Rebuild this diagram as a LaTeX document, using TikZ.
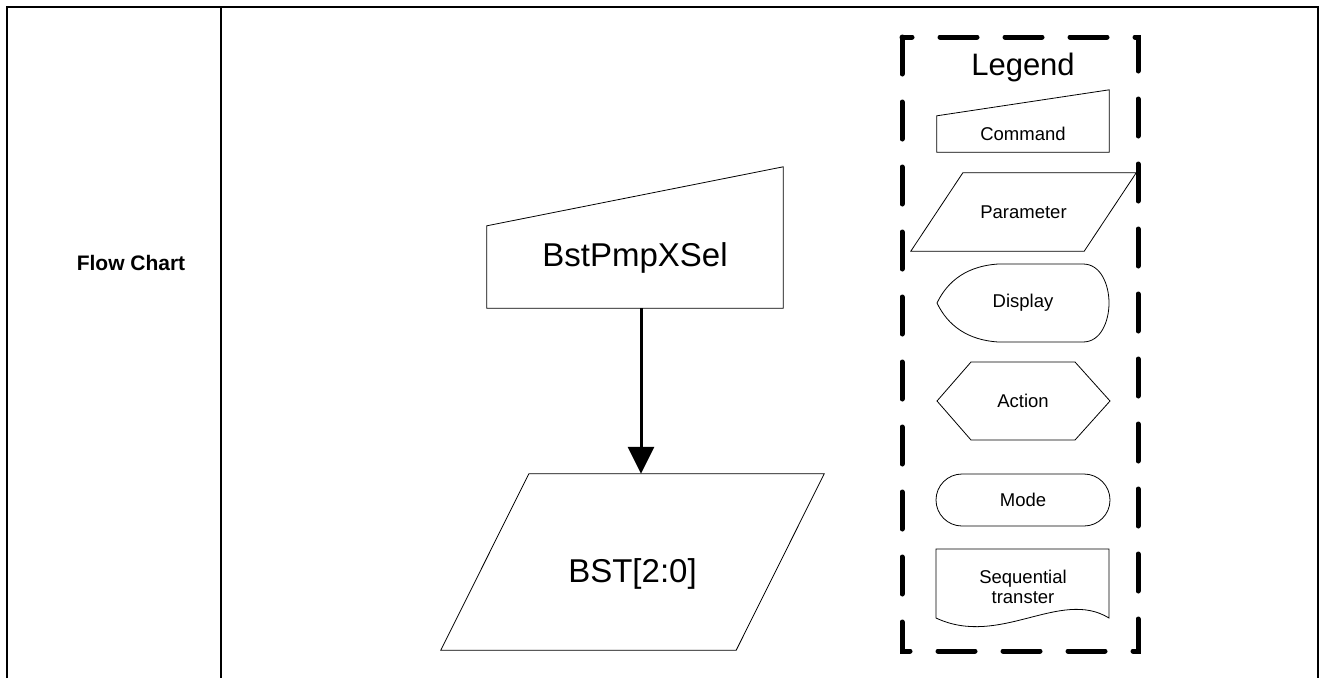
\documentclass[tikz,border=0pt]{standalone}
\usepackage{fontspec}
\setmainfont{Liberation Sans}
\usetikzlibrary{arrows.meta, shapes.misc}

\newcommand{\bigtxt}{\fontsize{33}{39}\selectfont}
\newcommand{\smalltxt}{\fontsize{18.5}{20}\selectfont}

\begin{document}
\begin{tikzpicture}[x=1pt, y=-1pt,
    outline/.style={draw, line width=0.8pt},
    body/.style={inner sep=0pt, align=center},
    legendbox/.style={line width=5pt, line cap=round, dash pattern=on 37pt off 28pt},
    frame/.style={line width=2.8pt},
    flow/.style={line width=3pt, -{Triangle[width=26pt, length=27pt]}}]
   \useasboundingbox (0,0) rectangle (1321,678);

   % table
   \draw[frame] (7,678) -- (7,7) -- (1318,7) -- (1318,678);
   \draw[frame] (221,7) -- (221,678);
   \node[font=\bfseries\fontsize{21}{25}\selectfont] (row) at (131,263) {Flow Chart};

   % flow chart
   \node[body, font=\bigtxt, minimum width=296pt, minimum height=104pt] (cmd) at (635,258) {BstPmpXSel};
   \draw[outline] ([yshift=2pt]cmd.south west) -- ([yshift=-20pt]cmd.north west)
      -- ([yshift=39pt]cmd.north east) -- ([yshift=2pt]cmd.south east) -- cycle;
   \node[body, font=\bigtxt, minimum width=295pt, minimum height=176pt,
      text height=47pt, text depth=7pt] (bst) at (632.5,562) {BST[2:0]};
   \draw[outline] ([xshift=44pt]bst.north west) -- ([xshift=44pt]bst.north east)
      -- ([xshift=-44pt]bst.south east) -- ([xshift=-44pt]bst.south west) -- cycle;
   \draw[flow] ([xshift=6pt, yshift=2pt]cmd.south) -- ([xshift=6pt]cmd.south |- bst.north);

   % legend
   \draw[legendbox] (902,37) rectangle (1138,651);
   \node[font=\fontsize{31}{36}\selectfont] (legend) at (1023,67) {Legend};

   \node[body, font=\smalltxt, minimum width=172pt, minimum height=36pt] (lcmd) at (1023,134) {Command};
   \draw[outline] (lcmd.south west) -- (lcmd.north west)
      -- ([yshift=26pt]lcmd.north east) -- (lcmd.south east) -- cycle;

   \node[body, font=\smalltxt, minimum width=173pt, minimum height=78pt] (lpar) at (1023.5,212) {Parameter};
   \draw[outline] ([xshift=26pt]lpar.north west) -- ([xshift=26pt]lpar.north east)
      -- ([xshift=-26pt]lpar.south east) -- ([xshift=-26pt]lpar.south west) -- cycle;

   \node[body, font=\smalltxt] (ldsp) at (1023,303) {Display};
   \draw[outline] (937,303) .. controls (948,280) and (968,266) .. (998,264) -- (1083,264)
      .. controls (1101,264) and (1109,285) .. (1109,303)
      .. controls (1109,321) and (1101,342) .. (1083,342) -- (998,342)
      .. controls (968,340) and (948,326) .. (937,303) -- cycle;

   \node[body, font=\smalltxt] (lact) at (1023,401) {Action};
   \draw[outline] (937,401) -- (971,362) -- (1075,362) -- (1110,401) -- (1075,440) -- (971,440) -- cycle;

   \node[outline, rounded rectangle, font=\smalltxt, inner sep=0pt,
      minimum width=174pt, minimum height=52pt] (lmode) at (1023,500) {Mode};

   \draw[outline] (936,618) -- (936,549) -- (1109,549) -- (1109,618)
      .. controls (1060,588) and (1000,648) .. (936,618) -- cycle;
   \node[body, font=\smalltxt] (lseq) at (1023,587) {Sequential\\transter};
\end{tikzpicture}
\end{document}
